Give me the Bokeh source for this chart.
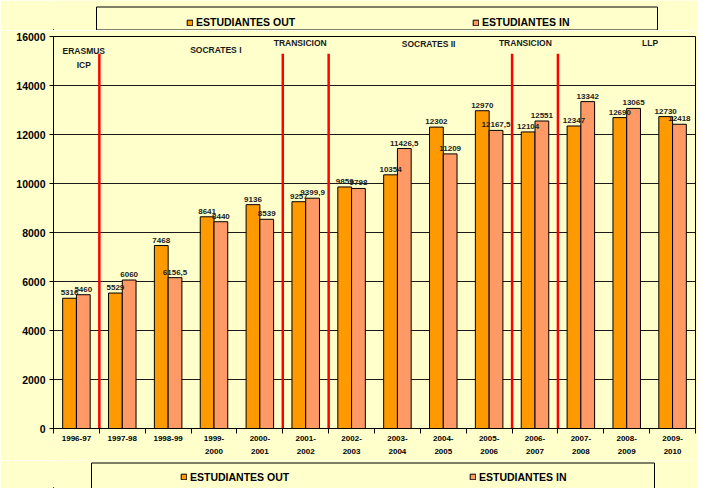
from bokeh.plotting import figure
from bokeh.models import Range1d, FixedTicker, ColumnDataSource, Legend, LegendItem
from bokeh.layouts import column
from bokeh.transform import dodge
from bokeh.core.properties import value
from bokeh.embed import file_html
from bokeh.resources import INLINE

# ---------------- data ----------------
years = ["1996-97", "1997-98", "1998-99", "1999-\n2000", "2000-\n2001", "2001-\n2002",
         "2002-\n2003", "2003-\n2004", "2004-\n2005", "2005-\n2006", "2006-\n2007",
         "2007-\n2008", "2008-\n2009", "2009-\n2010"]
est_out = [5316, 5529, 7468, 8641, 9136, 9257, 9859, 10354, 12302, 12970, 12104, 12347, 12690, 12730]
est_in = [5460, 6060, 6156.5, 8440, 8539, 9399.9, 9798, 11426.5, 11209, 12167.5, 12551, 13342, 13065, 12418]
series_names = ["ESTUDIANTES OUT", "ESTUDIANTES IN"]
y_ticks = [0, 2000, 4000, 6000, 8000, 10000, 12000, 14000, 16000]
# programme changes happen right after these academic years
period_breaks_after = ["1996-97", "2000-\n2001", "2001-\n2002", "2005-\n2006", "2006-\n2007"]
period_labels = ["ERASMUS\nICP", "SOCRATES I", "TRANSICION", "SOCRATES II", "TRANSICION", "LLP"]

# ---------------- styling ----------------
BG = "#FFFFCC"
C_OUT = "#FF9900"
C_IN = "#FF9966"
FONT = "Liberation Sans"
W = 698
BL, BR = 53, 3  # left / right borders shared by all stacked figures

def fmt(v):
    if float(v).is_integer():
        return str(int(v))
    return str(v).replace(".", ",")

xs = [i + 1 for i in range(len(years))]
src = ColumnDataSource(dict(x=xs, out=est_out, inn=est_in,
                            out_lbl=[fmt(v) for v in est_out],
                            in_lbl=[fmt(v) for v in est_in]))

p = figure(width=W, height=430, x_range=Range1d(0.5, len(years) + 0.5), y_range=Range1d(0, 16000),
           output_backend="svg", toolbar_location=None,
           min_border_left=BL, min_border_right=BR, min_border_top=6, min_border_bottom=32,
           background_fill_color=BG, border_fill_color=BG,
           outline_line_color="black", outline_line_width=1)

# x axis: labels at centres, ticks at category boundaries (minor ticks)
p.xaxis.ticker = FixedTicker(ticks=xs, minor_ticks=[x + 0.5 for x in [0] + xs])
p.xaxis.major_label_overrides = {x: years[i] for i, x in enumerate(xs)}
p.xaxis.major_tick_out = 0
p.xaxis.major_tick_in = 0
p.xaxis.minor_tick_out = 5
p.xaxis.minor_tick_in = 0
p.xaxis.minor_tick_line_color = "black"
p.xaxis.major_label_standoff = 0
p.xaxis.major_label_text_font = FONT
p.xaxis.major_label_text_font_style = "bold"
p.xaxis.major_label_text_font_size = "8px"
p.xaxis.major_label_text_line_height = 1.5
p.xaxis.major_label_text_color = "black"
p.xaxis.axis_line_color = "black"

p.yaxis.ticker = FixedTicker(ticks=y_ticks)
p.yaxis.major_tick_out = 4
p.yaxis.major_tick_in = 0
p.yaxis.minor_tick_out = 0
p.yaxis.minor_tick_in = 0
p.yaxis.major_label_standoff = 4
p.yaxis.major_label_text_font = FONT
p.yaxis.major_label_text_font_style = "bold"
p.yaxis.major_label_text_font_size = "10.5px"
p.yaxis.major_label_text_color = "black"
p.yaxis.axis_line_color = "black"

p.xgrid.visible = False
p.ygrid.ticker = FixedTicker(ticks=y_ticks)
p.ygrid.grid_line_color = "#1a1a1a"
p.ygrid.grid_line_width = 1

# bars
p.vbar(x=dodge("x", -0.15, range=p.x_range), top="out", width=0.3, source=src,
       fill_color=C_OUT, line_color="black", line_width=1)
p.vbar(x=dodge("x", 0.15, range=p.x_range), top="inn", width=0.3, source=src,
       fill_color=C_IN, line_color="black", line_width=1)

# value labels
lbl_kw = dict(text_align="center", text_baseline="bottom", y_offset=-3,
              text_font=value(FONT), text_font_style="bold", text_font_size="8px",
              text_color="#222222", source=src)
p.text(x=dodge("x", -0.15, range=p.x_range), y="out", text="out_lbl", **lbl_kw)
p.text(x=dodge("x", 0.15, range=p.x_range), y="inn", text="in_lbl", **lbl_kw)

# programme boundaries
bx = [years.index(c) + 1.5 for c in period_breaks_after]
p.segment(x0=bx, y0=[0] * len(bx), x1=bx, y1=[15300] * len(bx), line_color="red", line_width=2.5)

# programme names (annotation positions)
period_x = [1.16, 4.04, 5.88, 8.68, 10.79, 13.51]
period_y = [15121, 15467, 15723, 15704, 15723, 15743]
p.text(x=period_x, y=period_y, text=period_labels, text_align="center", text_baseline="middle",
       text_font=value(FONT), text_font_style="bold", text_font_size="8.5px",
       text_line_height=1.35, text_color="#1a1a1a")


def legend_fig(h, box, glyph_x, legend_y, gap):
    # x range expressed in page pixels so that the frame maps 1:1
    f = figure(width=W, height=h, x_range=Range1d(BL, W - BR), y_range=Range1d(0, h),
               output_backend="svg", toolbar_location=None,
               x_axis_location=None, y_axis_location=None,
               min_border_left=BL, min_border_right=BR, min_border_top=0, min_border_bottom=0,
               background_fill_color=BG, border_fill_color=BG, outline_line_color=None)
    f.grid.visible = False
    left, right, top, bottom = box
    f.quad(left=[left], right=[right], top=[top], bottom=[bottom],
           fill_color=BG, line_color="black", line_width=1)
    # off-screen proxies so the legend has glyphs to draw
    ro = f.vbar(x=[-500], top=[1], bottom=[0], width=1, fill_color=C_OUT, line_color="black")
    ri = f.vbar(x=[-500], top=[1], bottom=[0], width=1, fill_color=C_IN, line_color="black")
    leg = Legend(items=[LegendItem(label=series_names[0], renderers=[ro]),
                        LegendItem(label=series_names[1], renderers=[ri])],
                 orientation="horizontal", location=(glyph_x - BL, legend_y),
                 padding=0, margin=0, spacing=10, label_width=gap - 20,
                 glyph_width=7, glyph_height=7, label_standoff=3,
                 border_line_color=None, background_fill_alpha=0,
                 label_text_font=FONT, label_text_font_style="bold",
                 label_text_font_size="10.5px", label_text_color="black")
    f.add_layout(leg)
    return f


top_leg = legend_fig(30, (96, 657, 23.5, 0.5), 186, 2, 286)
bot_leg = legend_fig(28, (91, 654, 25.5, -10), 180, 5.5, 289)

layout = column(top_leg, p, bot_leg, spacing=0)
open("out.html", "w").write(file_html(layout, INLINE))
